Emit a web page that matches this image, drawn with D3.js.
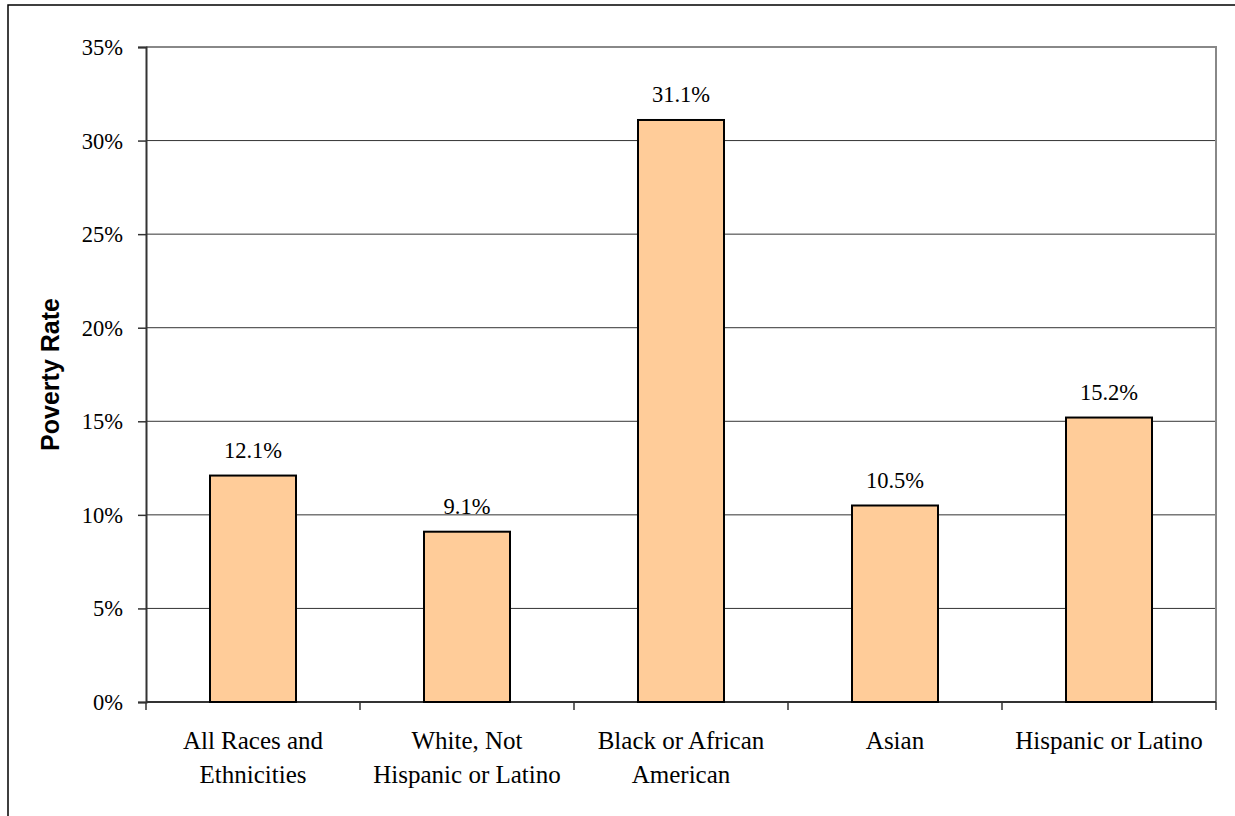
<!DOCTYPE html>
<html><head><meta charset="utf-8">
<script src="https://cdn.jsdelivr.net/npm/d3@7"></script>
<style>body{margin:0;background:#fff}svg{display:block}.serif{font-family:"Liberation Serif","Times New Roman",serif}</style>
</head><body>
<script>
const categories = [["All Races and","Ethnicities"],["White, Not","Hispanic or Latino"],["Black or African","American"],["Asian"],["Hispanic or Latino"]];
const values = [12.1, 9.1, 31.1, 10.5, 15.2];
const yTicks = [0,5,10,15,20,25,30,35];
const yTitle = "Poverty Rate";

const W=1235,H=816;
const svg=d3.select("body").append("svg").attr("width",W).attr("height",H);
svg.append("rect").attr("x",8).attr("y",5).attr("width",1240).attr("height",900).attr("fill","#fff").attr("stroke","#000").attr("stroke-width",1.5);
const L=146,R=1216,T=47,B=702;
const x=d3.scaleBand().domain(d3.range(values.length)).range([L,R]).paddingInner(0).paddingOuter(0);
const y=d3.scaleLinear().domain([0,35]).range([B,T]);
// gridlines
svg.append("g").selectAll("line").data(yTicks.filter(d=>d>0&&d<35)).join("line")
 .attr("x1",L).attr("x2",R).attr("y1",d=>y(d)).attr("y2",d=>y(d)).attr("stroke","#333").attr("stroke-width",1);
// plot border top/right
svg.append("path").attr("d",`M${L},${y(35)}H${R}V${B}`).attr("fill","none").attr("stroke","#888").attr("stroke-width",2);
// y axis
const ya=svg.append("g").attr("transform",`translate(${L},0)`).call(d3.axisLeft(y).tickValues(yTicks).tickSize(8).tickFormat(d=>d+"%"));
ya.attr("font-family",null).attr("font-size",null);
ya.select(".domain").attr("stroke","#333").attr("stroke-width",2);
ya.selectAll(".tick line").attr("stroke","#333").attr("stroke-width",1.5);
ya.selectAll("text").attr("class","serif").style("font-size","22.5px").attr("fill","#000").attr("x",-23).attr("dy","0.33em");
// x axis
svg.append("line").attr("x1",L).attr("x2",R).attr("y1",B).attr("y2",B).attr("stroke","#333").attr("stroke-width",2);
const bounds=d3.range(values.length+1).map(i=>i<values.length?x(i):x(values.length-1)+x.bandwidth());
svg.append("g").selectAll("line").data(bounds).join("line").attr("x1",d=>d).attr("x2",d=>d).attr("y1",B).attr("y2",B+8).attr("stroke","#333").attr("stroke-width",1.5);
// bars
const bw=86;
svg.append("g").selectAll("rect").data(values).join("rect")
 .attr("x",(d,i)=>x(i)+x.bandwidth()/2-bw/2).attr("width",bw)
 .attr("y",d=>y(d)).attr("height",d=>B-y(d))
 .attr("fill","#FFCC99").attr("stroke","#000").attr("stroke-width",2);
// value labels
svg.append("g").selectAll("text").data(values).join("text").attr("class","serif")
 .attr("x",(d,i)=>x(i)+x.bandwidth()/2).attr("y",d=>y(d)-18)
 .attr("text-anchor","middle").style("font-size","22.5px").text(d=>d.toFixed(1)+"%");
// category labels
const cg=svg.append("g").selectAll("text").data(categories).join("text").attr("class","serif")
 .attr("x",(d,i)=>x(i)+x.bandwidth()/2).attr("y",749).attr("text-anchor","middle").style("font-size","25px");
cg.selectAll("tspan").data(d=>d).join("tspan").attr("x",function(){return this.parentNode.getAttribute("x");}).attr("dy",(d,i)=>i?34:0).text(d=>d);
// y title
svg.append("text").attr("transform",`translate(59,${(T+B)/2}) rotate(-90)`).attr("text-anchor","middle")
 .style("font-family","'Liberation Sans',Arial,sans-serif").attr("font-weight","bold").style("font-size","25px").text(yTitle);
</script>
</body></html>
